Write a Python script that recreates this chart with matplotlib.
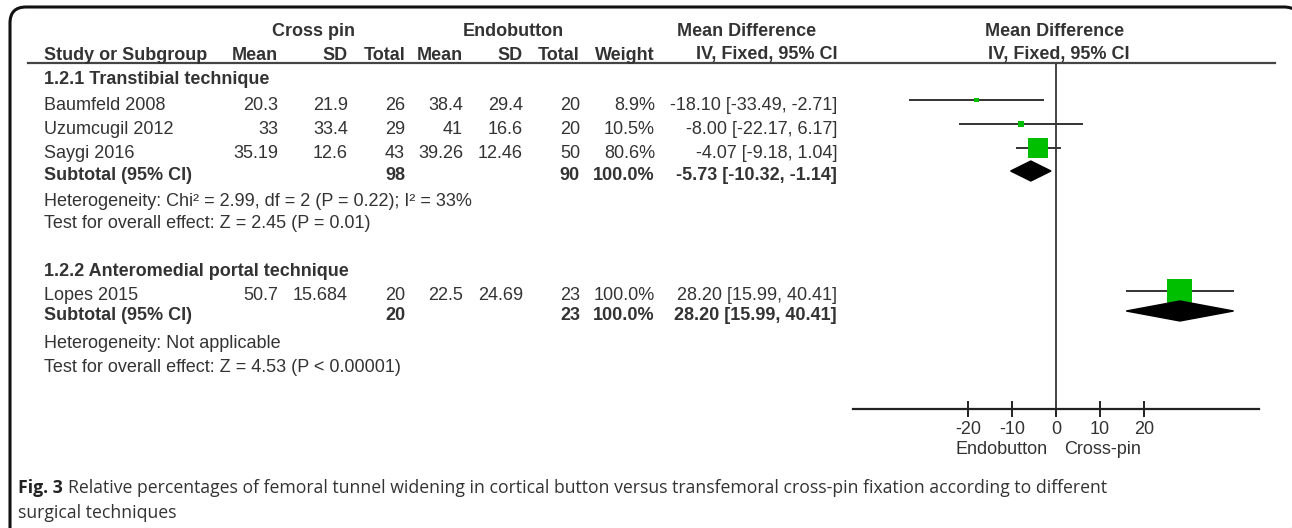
import matplotlib
matplotlib.use("Agg")
import matplotlib.pyplot as plt
from matplotlib.patches import FancyBboxPatch, Polygon
from matplotlib.lines import Line2D

plt.rcParams['font.family'] = ['Liberation Sans', 'DejaVu Sans']

# data
groups = ["1.2.1 Transtibial technique", "1.2.2 Anteromedial portal technique"]
studies = [["Baumfeld 2008", "Uzumcugil 2012", "Saygi 2016"], ["Lopes 2015"]]
cp_mean = [[20.3, 33, 35.19], [50.7]]
cp_sd = [[21.9, 33.4, 12.6], [15.684]]
cp_n = [[26, 29, 43], [20]]
eb_mean = [[38.4, 41, 39.26], [22.5]]
eb_sd = [[29.4, 16.6, 12.46], [24.69]]
eb_n = [[20, 20, 50], [23]]
weight = [[8.9, 10.5, 80.6], [100.0]]
md = [[-18.10, -8.00, -4.07], [28.20]]
md_lo = [[-33.49, -22.17, -9.18], [15.99]]
md_hi = [[-2.71, 6.17, 1.04], [40.41]]
sub_cp_n = [98, 20]
sub_eb_n = [90, 23]
sub_md = [-5.73, 28.20]
sub_lo = [-10.32, 15.99]
sub_hi = [-1.14, 40.41]
het = ["Heterogeneity: Chi² = 2.99, df = 2 (P = 0.22); I² = 33%",
       "Heterogeneity: Not applicable"]
overall = ["Test for overall effect: Z = 2.45 (P = 0.01)",
           "Test for overall effect: Z = 4.53 (P < 0.00001)"]
ticks = [-20, -10, 0, 10, 20]

W, H = 1292, 528
fig = plt.figure(figsize=(W / 100, H / 100), dpi=100)
fig.patch.set_facecolor("white")

def fx(x):
    return x / W

def fy(y):
    return 1 - y / H

TXT = "#333333"
FS = 13

def put(x, y, s, ha="left", bold=False, **kw):
    fig.text(fx(x), fy(y), s, ha=ha, va="center", fontsize=kw.pop("fs", FS),
             fontweight="bold" if bold else "normal", color=TXT, **kw)

# frame, drawn on a background canvas in pixel units
bg = fig.add_axes([0, 0, 1, 1], zorder=-1)
bg.set_xlim(0, W)
bg.set_ylim(H, 0)
bg.axis("off")
bg.add_patch(FancyBboxPatch((10, 7), 1300 - 10, 600, boxstyle="round,pad=0,rounding_size=16",
                            fill=False, lw=2.2, ec="#111111", clip_on=False))

# header
put(313, 32, "Cross pin", ha="center", bold=True)
put(513, 32, "Endobutton", ha="center", bold=True)
put(747, 32, "Mean Difference", ha="center", bold=True)
put(1055, 32, "Mean Difference", ha="center", bold=True)
put(44, 55, "Study or Subgroup", bold=True)
cols = [278, 348, 405, 463, 523, 580, 655, 837]
for x, h in zip(cols, ["Mean", "SD", "Total", "Mean", "SD", "Total", "Weight",
                       "IV, Fixed, 95% CI"]):
    put(x, 55, h, ha="right", bold=True)
put(1059, 55, "IV, Fixed, 95% CI", ha="center", bold=True)
fig.add_artist(Line2D([fx(28), fx(1275)], [fy(63), fy(63)], transform=fig.transFigure,
                      color="#444444", lw=1.6))

# forest axes
ax = fig.add_axes([fx(853), fy(409), fx(1259) - fx(853), fy(63) - fy(409)])
ax.set_xlim(-46.2, 46.2)
ax.set_ylim(409, 63)
ax.patch.set_alpha(0)
for s in ["top", "left", "right"]:
    ax.spines[s].set_visible(False)
ax.spines["bottom"].set_color("#222222")
ax.spines["bottom"].set_linewidth(1.6)
ax.set_yticks([])
ax.set_xticks(ticks)
ax.set_xticklabels([str(t) for t in ticks], fontsize=FS, color=TXT)
ax.tick_params(axis="x", direction="inout", length=12, width=1.4, colors="#222222",
               labelcolor=TXT, pad=3)
ax.axvline(0, color="#444444", lw=1.4)
ax.text(-12.5, 449, "Endobutton", ha="center", va="center", fontsize=FS, color=TXT,
        transform=ax.transData, clip_on=False)
ax.text(10.5, 449, "Cross-pin", ha="center", va="center", fontsize=FS, color=TXT,
        transform=ax.transData, clip_on=False)

# rows layout (pixel y from top)
layout = [dict(head=80, rows=[105, 129, 153], sub=176, het=202, test=223),
          dict(head=272, rows=[296], sub=316, het=343, test=367)]
OFF = 5

for g in range(len(groups)):
    L = layout[g]
    put(44, L["head"], groups[g], bold=True)
    for i, name in enumerate(studies[g]):
        y = L["rows"][i]
        vals = [f"{cp_mean[g][i]:g}", f"{cp_sd[g][i]:g}", f"{cp_n[g][i]}",
                f"{eb_mean[g][i]:g}", f"{eb_sd[g][i]:g}", f"{eb_n[g][i]}",
                f"{weight[g][i]:.1f}%",
                f"{md[g][i]:.2f} [{md_lo[g][i]:.2f}, {md_hi[g][i]:.2f}]"]
        put(44, y, name)
        for x, v in zip(cols, vals):
            put(x, y, v, ha="right")
        ym = y - OFF
        ax.plot([md_lo[g][i], md_hi[g][i]], [ym, ym], color="#333333", lw=1.4,
                solid_capstyle="butt", zorder=3)
        side = 0.22 * weight[g][i] + 3
        ax.scatter([md[g][i]], [ym], marker="s", s=(side * 0.72) ** 2,
                   color="#00bf00", edgecolors="none", zorder=4)
    y = L["sub"]
    put(44, y, "Subtotal (95% CI)", bold=True)
    put(cols[2], y, f"{sub_cp_n[g]}", ha="right", bold=True)
    put(cols[5], y, f"{sub_eb_n[g]}", ha="right", bold=True)
    put(cols[6], y, "100.0%", ha="right", bold=True)
    put(cols[7], y, f"{sub_md[g]:.2f} [{sub_lo[g]:.2f}, {sub_hi[g]:.2f}]", ha="right",
        bold=True)
    ym = y - OFF
    ax.add_patch(Polygon([(sub_lo[g], ym), (sub_md[g], ym - 10), (sub_hi[g], ym),
                          (sub_md[g], ym + 10)], closed=True, color="black", zorder=5))
    put(44, L["het"], het[g])
    put(44, L["test"], overall[g])

# caption
CAP = ["Open Sans", "DejaVu Sans"]
cap1 = fig.text(fx(18), fy(488), "Fig. 3", fontsize=12.7, fontweight="bold",
                family=CAP, color="#222222", va="center")
fig.text(fx(18), fy(513), "surgical techniques", fontsize=12.7,
         family=CAP, color="#333333", va="center")
plt.annotate("Relative percentages of femoral tunnel widening in cortical button versus "
             "transfemoral cross-pin fixation according to different",
             xy=(1, 0.5), xycoords=cap1, xytext=(4, 0), textcoords="offset points",
             va="center", fontsize=12.7, family=CAP,
             color="#333333", annotation_clip=False)

fig.savefig("out.png", dpi=100)
